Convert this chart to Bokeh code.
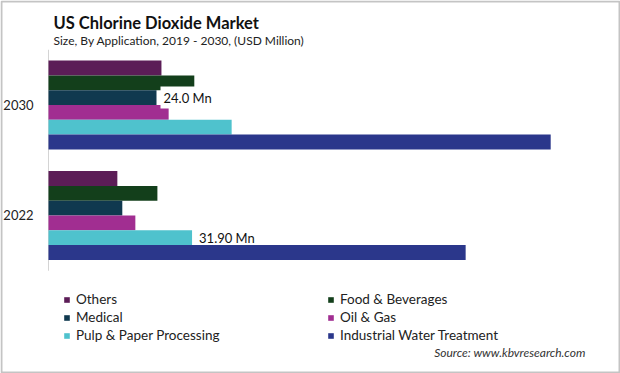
from bokeh.plotting import figure
from bokeh.models import (Range1d, Label, Legend, LegendItem, ColumnDataSource,
                          BoxAnnotation)
from bokeh.transform import dodge
from bokeh.embed import file_html
from bokeh.resources import INLINE
from bokeh.core.properties import value

# ---- data ----
years = ["2022", "2030"]
series = ["Others", "Food & Beverages", "Medical", "Oil & Gas",
          "Pulp & Paper Processing", "Industrial Water Treatment"]
others = [15.3, 25.1]
food_beverages = [24.2, 32.4]
medical = [16.4, 24.0]
oil_gas = [19.3, 26.7]
pulp_paper = [31.9, 40.7]
industrial_water = [92.7, 111.6]
colors = ["#5C1D57", "#133F1B", "#10394F", "#A12E91", "#4FC2CD", "#2B378B"]

keys = ["others", "food", "medical", "oil", "pulp", "industrial"]
ypos = list(range(len(years)))
src = ColumnDataSource(dict(ypos=ypos, year=years, zero=[0] * len(years),
                            others=others, food=food_beverages,
                            medical=medical, oil=oil_gas, pulp=pulp_paper,
                            industrial=industrial_water))

FONT = "Lato"

p = figure(width=620, height=373, y_range=Range1d(-1.4299, 1.9457),
           x_range=Range1d(-10.667, 127.111), output_backend="svg",
           toolbar_location=None, x_axis_location=None, y_axis_location=None,
           min_border_left=0, min_border_right=0,
           min_border_top=0, min_border_bottom=0)
p.outline_line_color = None
p.xgrid.visible = False
p.ygrid.visible = False
p.background_fill_color = "white"
p.border_fill_color = "white"

# outer border
p.add_layout(BoxAnnotation(left=1, right=619, top=1, bottom=372,
                           left_units="screen", right_units="screen",
                           top_units="screen", bottom_units="screen",
                           fill_alpha=0, line_color="#3c3c3c", line_width=2))

# category axis line and labels
p.segment(x0=0, x1=0, y0=ypos[0] - 0.5, y1=ypos[-1] + 0.5,
          line_color="#d4d4d4", line_width=1)
p.text(x="zero", y="ypos", text="year", source=src, x_offset=-15,
       text_align="right", text_baseline="middle", text_font=value(FONT),
       text_font_size="13px", text_color="#222222")

bar_h = 0.134
renderers = []
for i, (k, c) in enumerate(zip(keys, colors)):
    off = (2.5 - i) * bar_h
    r = p.hbar(y=dodge("ypos", off), left=0, right=k,
               height=bar_h, source=src, fill_color=c, line_color=None)
    renderers.append(r)

# data labels
lab_med = ColumnDataSource(dict(ypos=[ypos[1]], x=[medical[1]],
                                text=[f"{medical[1]:.1f} Mn"]))
p.text(x="x", y=dodge("ypos", (2.5 - 2) * bar_h), text="text",
       source=lab_med, x_offset=4, text_baseline="middle", text_align="left",
       text_font=value(FONT), text_font_size="13px", text_color="#111111",
       background_fill_color="white", padding=3)
lab_pulp = ColumnDataSource(dict(ypos=[ypos[0]], x=[pulp_paper[0]],
                                 text=[f"{pulp_paper[0]:.2f} Mn"]))
p.text(x="x", y=dodge("ypos", (2.5 - 4) * bar_h), text="text",
       source=lab_pulp, x_offset=7, text_baseline="middle", text_align="left",
       text_font=value(FONT), text_font_size="13px", text_color="#111111")

# titles
p.add_layout(Label(x=53, y=351, x_units="screen", y_units="screen",
                   text="US Chlorine Dioxide Market", text_font=FONT,
                   text_font_size="16.5px", text_font_style="bold",
                   text_color="#111111", text_baseline="alphabetic"))
p.add_layout(Label(x=53, y=333.5, x_units="screen", y_units="screen",
                   text="Size, By Application, 2019 - 2030, (USD Million)",
                   text_font=FONT, text_font_size="12px",
                   text_color="#222222", text_baseline="alphabetic"))
p.add_layout(Label(x=585, y=21, x_units="screen", y_units="screen",
                   text="Source: www.kbvresearch.com", text_font=FONT,
                   text_font_size="12px", text_font_style="italic",
                   text_color="#333333", text_align="right",
                   text_baseline="middle"))

def make_legend(idx, loc):
    items = [LegendItem(label=series[i], renderers=[renderers[i]]) for i in idx]
    return Legend(items=items, location=loc, orientation="vertical",
                  glyph_width=7, glyph_height=7, label_height=14, spacing=2,
                  padding=0, margin=0, border_line_color=None,
                  background_fill_alpha=0, label_text_font=FONT,
                  label_text_font_size="13.5px", label_text_color="#222222",
                  label_standoff=6)

p.add_layout(make_legend([0, 2, 4], (63, 30)), "center")
p.add_layout(make_legend([1, 3, 5], (327, 30)), "center")

open("out.html", "w").write(file_html(p, INLINE))
